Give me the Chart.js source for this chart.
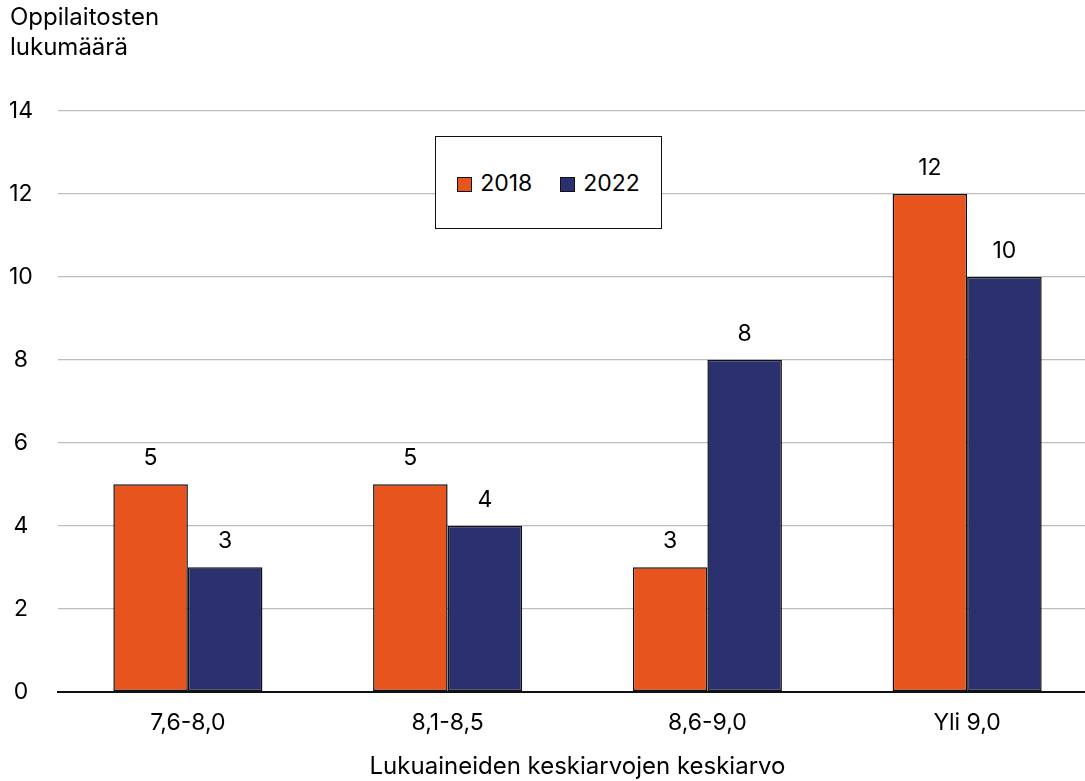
<!DOCTYPE html>
<html>
<head>
<meta charset="utf-8">
<script src="https://cdn.jsdelivr.net/npm/chart.js@4.4.1/dist/chart.umd.min.js"></script>
<style>
  body { margin: 0; background: #fff; }
  #wrap { position: relative; width: 1085px; height: 781px; overflow: hidden; }
  #legend {
    position: absolute; left: 435px; top: 136px; width: 225px; height: 91px;
    border: 1.5px solid #111; background: #fff;
    font-family: Inter, "Liberation Sans", sans-serif; font-size: 23px; color: #000;
    display: flex; align-items: center; justify-content: center; gap: 28px;
  }
  #legend span.sw { display: inline-block; width: 13px; height: 13px; border: 1.5px solid #111; margin-right: 8px; vertical-align: -1px; }
</style>
</head>
<body>
<div id="wrap">
  <!-- canvas a bit wider than the page: the plot runs past the right edge, as in the original -->
  <canvas id="myChart" width="1097" height="781"></canvas>
  <div id="legend"></div>
</div>
<script>
const categories = ['7,6-8,0', '8,1-8,5', '8,6-9,0', 'Yli 9,0'];
const values2018 = [5, 5, 3, 12];
const values2022 = [3, 4, 8, 10];
const seriesNames = ['2018', '2022'];
const seriesColors = ['#E8541E', '#2A316E'];
const yTicks = [0, 2, 4, 6, 8, 10, 12, 14];

const fontFamily = 'Inter, "Liberation Sans", sans-serif';

// legend in a box inside the plot
const legendEl = document.getElementById('legend');
seriesNames.forEach((name, i) => {
    const item = document.createElement('div');
    item.innerHTML = '<span class="sw" style="background:' + seriesColors[i] + '"></span>' + name;
    legendEl.appendChild(item);
});

// value labels above bars
const barLabels = {
    id: 'barLabels',
    afterDatasetsDraw(chart) {
        const ctx = chart.ctx;
        ctx.save();
        ctx.font = '23px ' + fontFamily;
        ctx.fillStyle = '#000';
        ctx.textAlign = 'center';
        ctx.textBaseline = 'middle';
        chart.data.datasets.forEach((ds, i) => {
            chart.getDatasetMeta(i).data.forEach((bar, j) => {
                ctx.fillText(ds.data[j], bar.x, bar.y - 26);
            });
        });
        ctx.restore();
    }
};

const ctx = document.getElementById('myChart').getContext('2d');
window.myChart = new Chart(ctx, {
    type: 'bar',
    data: {
        labels: categories,
        datasets: [values2018, values2022].map((vals, i) => ({
            label: seriesNames[i],
            data: vals,
            backgroundColor: seriesColors[i],
            borderColor: '#111',
            borderWidth: 1.5,
            borderSkipped: false,
            categoryPercentage: 0.574,
            barPercentage: 1.0
        }))
    },
    options: {
        responsive: false,
        animation: false,
        layout: { padding: { left: 10, right: 0, top: 0, bottom: 0 } },
        plugins: {
            legend: { display: false },
            tooltip: { enabled: false },
            title: {
                display: true,
                text: ['Oppilaitosten', 'lukumäärä'],
                align: 'start',
                color: '#000',
                font: { family: fontFamily, size: 24, weight: 'normal', lineHeight: 1.25 },
                padding: { top: 3, bottom: 48 }
            }
        },
        scales: {
            x: {
                grid: { display: false },
                border: { color: '#111', width: 2 },
                ticks: {
                    color: '#000',
                    font: { family: fontFamily, size: 23 },
                    padding: 10
                },
                title: {
                    display: true,
                    text: 'Lukuaineiden keskiarvojen keskiarvo',
                    color: '#000',
                    font: { family: fontFamily, size: 24 },
                    padding: { top: 5, bottom: 0 }
                }
            },
            y: {
                min: 0,
                max: 14,
                afterBuildTicks(axis) {
                    axis.ticks = yTicks.map(v => ({ value: v }));
                },
                afterFit(axis) {
                    axis.width = 48;
                },
                grid: { color: '#bdbdbd', lineWidth: 1.2, drawTicks: false },
                border: { display: false },
                ticks: {
                    color: '#000',
                    font: { family: fontFamily, size: 23 },
                    crossAlign: 'center',
                    padding: 25
                }
            }
        }
    },
    plugins: [barLabels]
});
</script>
</body>
</html>
